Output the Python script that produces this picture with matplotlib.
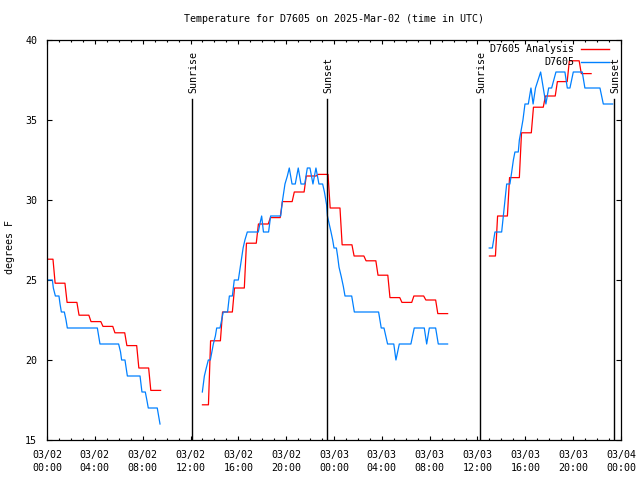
import matplotlib
matplotlib.use("Agg")
import matplotlib.pyplot as plt
import numpy as np

plt.rcParams['font.family'] = ['DejaVu Sans Mono', 'DejaVu Sans']
FS = 7.2

# ---- data (hours since 2025-03-02 00:00 UTC, temperature in F) ----
ana_hours_1 = [0, 1, 2, 3, 4, 5, 6, 7, 8, 9]
ana_temp_1 = [26.3, 24.8, 23.6, 22.8, 22.4, 22.1, 21.7, 20.9, 19.5, 18.1]
ana_hours_2 = list(range(13, 34))
ana_temp_2 = [17.2, 21.2, 23.0, 24.5, 27.3, 28.5, 28.9, 29.9, 30.5, 31.5, 31.6,
              29.5, 27.2, 26.5, 26.2, 25.3, 23.9, 23.6, 24.0, 23.75, 22.9]
ana_hours_3 = list(range(37, 46))
ana_temp_3 = [26.5, 29.0, 31.4, 34.2, 35.8, 36.5, 37.4, 38.7, 37.9]

obs_hours_1 = [0.0, 0.45, 0.53, 0.70, 1.0, 1.09, 1.2, 1.45, 1.59, 1.70, 4.21, 4.43,
               5.99, 6.15, 6.24, 6.52, 6.72, 7.78, 7.94, 8.22, 8.35, 8.47, 9.22, 9.45]
obs_temp_1 = [25, 25, 24.5, 24, 24, 23.5, 23, 23, 22.5, 22, 22, 21,
              21, 20.5, 20, 20, 19, 19, 18, 18, 17.5, 17, 17, 16]
obs_hours_2 = [12.99, 13.16, 13.32, 13.49, 13.66, 13.91, 14.08, 14.19, 14.47, 14.74,
               15.1, 15.25, 15.5, 15.66, 16.0, 16.2, 16.4, 16.55, 16.75, 17.67,
               17.8, 17.95, 18.1, 18.53, 18.7, 19.54, 19.7, 19.9, 20.1, 20.26,
               20.49, 20.76, 21.01, 21.24, 21.55, 21.77, 21.99, 22.24, 22.49, 22.74,
               23.05, 23.2, 23.38, 23.45, 23.66, 23.75, 23.89, 24.0, 24.2, 24.3,
               24.42, 24.61, 24.78, 24.92, 25.48, 25.7, 27.73, 27.95, 28.18, 28.48,
               29.0, 29.18, 29.46, 30.43, 30.71, 31.55, 31.75, 31.97, 32.5, 32.72, 33.5]
obs_temp_2 = [18, 19, 19.5, 20, 20, 21, 21.5, 22, 22, 23,
              23, 24, 24, 25, 25, 26, 27, 27.5, 28, 28,
              28.5, 29, 28, 28, 29, 29, 30, 31, 31.5, 32,
              31, 31, 32, 31, 31, 32, 32, 31, 32, 31,
              31, 30.5, 29.7, 29, 28.3, 28, 27.5, 27, 27, 26.5,
              25.8, 25.2, 24.6, 24, 24, 23, 23, 22, 22, 21,
              21, 20, 21, 21, 22, 22, 21, 22, 22, 21, 21]
obs_hours_3 = [36.98, 37.24, 37.46, 38.02, 38.16, 38.3, 38.44, 38.71, 38.85, 39.0,
               39.13, 39.41, 39.5, 39.66, 39.8, 39.97, 40.25, 40.47, 40.65, 40.85,
               41.28, 41.72, 41.95, 42.2, 42.56, 43.31, 43.51, 43.73, 44.01, 44.76,
               44.98, 46.24, 46.52, 47.3]
obs_temp_3 = [27, 27, 28, 28, 29, 30, 31, 31, 31.7, 32.5,
              33, 33, 33.75, 34.4, 35, 36, 36, 37, 36, 37,
              38, 36, 37, 37, 38, 38, 37, 37, 38, 38,
              37, 37, 36, 36]

sun_hours = [12.15, 23.44, 36.23, 47.4]
sun_labels = ["Sunrise", "Sunset", "Sunrise", "Sunset"]

tick_hours = list(range(0, 49, 4))
tick_labels = ["03/02\n00:00", "03/02\n04:00", "03/02\n08:00", "03/02\n12:00",
               "03/02\n16:00", "03/02\n20:00", "03/03\n00:00", "03/03\n04:00",
               "03/03\n08:00", "03/03\n12:00", "03/03\n16:00", "03/03\n20:00",
               "03/04\n00:00"]

title = "Temperature for D7605 on 2025-Mar-02 (time in UTC)"
ana_name = "D7605 Analysis"
obs_name = "D7605"
RED = "#ff0000"
BLUE = "#0080ff"

# ---- figure ----
fig = plt.figure(figsize=(6.4, 4.8), dpi=100)
ax = fig.add_axes([47/640, 40/480, 574/640, 400/480])

# hourly analysis: each hourly value held until half past the hour,
# with a short ramp into the next hour's value
for hrs, tmp in [(ana_hours_1, ana_temp_1), (ana_hours_2, ana_temp_2), (ana_hours_3, ana_temp_3)]:
    xs, ys = [], []
    for i, (h, v) in enumerate(zip(hrs, tmp)):
        xs += [h if i == 0 else h - 0.32, h + 0.5]
        ys += [v, v]
    ax.plot(xs, ys, color=RED, lw=0.9)

for hrs, tmp in [(obs_hours_1, obs_temp_1), (obs_hours_2, obs_temp_2), (obs_hours_3, obs_temp_3)]:
    ax.plot(hrs, tmp, color=BLUE, lw=0.9)

trans = matplotlib.transforms.blended_transform_factory(ax.transData, ax.transAxes)
for h, lab in zip(sun_hours, sun_labels):
    ax.plot([h, h], [0, 0.8525], color='black', lw=1.0, transform=trans)
    ax.text(h + 0.1, 0.8675, lab, rotation=90, ha='center', va='bottom',
            fontsize=FS, transform=trans)

ax.set_xlim(0, 48)
ax.set_ylim(15, 40)
ax.set_xticks(tick_hours)
ax.set_xticklabels(tick_labels, fontsize=FS, linespacing=1.4)
ax.set_xticks(range(0, 49), minor=True)
ax.set_yticks(range(15, 41, 5))
ax.tick_params(axis='y', labelsize=FS)
ax.tick_params(axis='x', which='major', direction='in', length=3, width=0.8,
               top=True, pad=7)
ax.tick_params(axis='x', which='minor', direction='in', length=1.5, width=0.8, top=True)
ax.tick_params(axis='y', which='major', direction='in', length=3.6, width=0.8,
               right=True, pad=7)
for sp in ax.spines.values():
    sp.set_linewidth(0.9)

# legend (right-aligned text, sample line)
ax.text(0.918, 0.9775, ana_name, ha='right', va='center', fontsize=FS, transform=ax.transAxes)
ax.plot([0.930, 0.979], [0.9775, 0.9775], color=RED, lw=1.0, transform=ax.transAxes)
ax.text(0.918, 0.944, obs_name, ha='right', va='center', fontsize=FS, transform=ax.transAxes)
ax.plot([0.930, 0.979], [0.944, 0.944], color=BLUE, lw=1.0, transform=ax.transAxes)

fig.text(334/640, 1 - 19/480, title, ha='center', va='center', fontsize=FS)
fig.text(10.5/640, 1 - 247/480, "degrees F", rotation=90, ha='center', va='center', fontsize=FS)

fig.savefig("out.png", dpi=100)
